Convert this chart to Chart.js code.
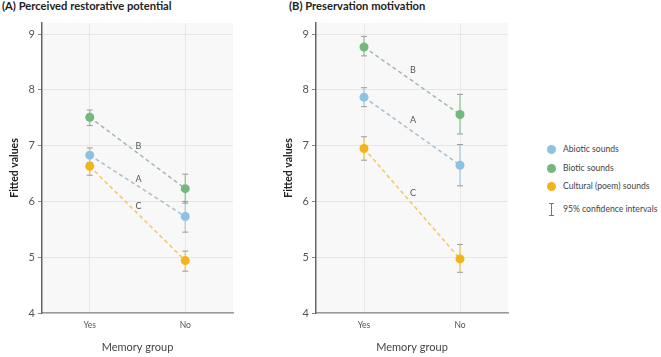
<!DOCTYPE html>
<html>
<head>
<meta charset="utf-8">
<script src="https://cdn.jsdelivr.net/npm/chart.js@4.4.1/dist/chart.umd.min.js"></script>
<style>
  body { margin: 0; background: #fff; font-family: Lato, sans-serif; }
  #wrap { position: relative; width: 661px; height: 357px; overflow: hidden; }
  .panel-title { position: absolute; top: -1px; font-weight: bold; font-size: 11.2px; color: #222; white-space: nowrap; }
  .cv { position: absolute; top: 0; }
  .leg-item { position: absolute; left: 563px; font-size: 8.6px; color: #444; white-space: nowrap; line-height: 10px; }
  .leg-dot { position: absolute; width: 9px; height: 9px; border-radius: 50%; }
</style>
</head>
<body>
<div id="wrap">
  <div class="panel-title" style="left:2px">(A) Perceived restorative potential</div>
  <div class="panel-title" style="left:289px">(B) Preservation motivation</div>
  <canvas id="chartA" class="cv" style="left:0px" width="240" height="357"></canvas>
  <canvas id="chartB" class="cv" style="left:250px" width="270" height="357"></canvas>
  <div id="legend"></div>
</div>
<script>
// categories and series
const memoryGroups = ['Yes', 'No'];
const seriesNames = ['Abiotic sounds', 'Biotic sounds', 'Cultural (poem) sounds'];
const seriesTags = ['A', 'B', 'C'];
const seriesColors = ['#8ec2e2', '#74b97c', '#f3b41b'];
const lineColors = ['#a8bfcf', '#a3bba6', '#f2c85e'];
const yTicks = [4, 5, 6, 7, 8, 9];

// (A) perceived restorative potential - fitted values and 95% CI
const restAbiotic = [6.83, 5.73];
const restAbioticLow = [6.70, 5.45];
const restAbioticHigh = [6.96, 6.00];
const restBiotic = [7.51, 6.23];
const restBioticLow = [7.36, 5.97];
const restBioticHigh = [7.64, 6.49];
const restCultural = [6.63, 4.94];
const restCulturalLow = [6.47, 4.75];
const restCulturalHigh = [6.78, 5.11];

// (B) preservation motivation
const presAbiotic = [7.87, 6.65];
const presAbioticLow = [7.70, 6.28];
const presAbioticHigh = [8.04, 7.02];
const presBiotic = [8.77, 7.56];
const presBioticLow = [8.61, 7.21];
const presBioticHigh = [8.96, 7.92];
const presCultural = [6.95, 4.97];
const presCulturalLow = [6.74, 4.73];
const presCulturalHigh = [7.16, 5.23];

function makeDatasets(means, lows, highs) {
  return means.map((vals, i) => ({
    label: seriesNames[i],
    tag: seriesTags[i],
    data: vals.map((v, j) => ({ x: j, y: v })),
    low: lows[i],
    high: highs[i],
    borderColor: lineColors[i],
    backgroundColor: seriesColors[i],
    pointBackgroundColor: seriesColors[i],
    pointBorderWidth: 0,
    pointRadius: 4.5,
    borderWidth: 1.5,
    borderDash: [4, 3],
    showLine: true
  }));
}

// plot background
const bgPlugin = {
  id: 'bg',
  beforeDraw(chart) {
    const { ctx, chartArea: a } = chart;
    ctx.save();
    ctx.fillStyle = '#f8f8f8';
    ctx.fillRect(a.left, a.top, a.right - a.left, a.bottom - a.top);
    ctx.restore();
  }
};

// error bars + A/B/C labels
const ciPlugin = {
  id: 'ci',
  beforeDatasetsDraw(chart) {
    const { ctx } = chart;
    const xs = chart.scales.x, ys = chart.scales.y;
    ctx.save();
    chart.data.datasets.forEach((ds, i) => {
      ds.data.forEach((p, j) => {
        const px = xs.getPixelForValue(p.x);
        const lo = ys.getPixelForValue(ds.low[j]);
        const hi = ys.getPixelForValue(ds.high[j]);
        ctx.strokeStyle = seriesColors[i];
        ctx.globalAlpha = 0.75;
        ctx.lineWidth = 1.3;
        ctx.beginPath();
        ctx.moveTo(px, lo);
        ctx.lineTo(px, hi);
        ctx.stroke();
        ctx.globalAlpha = 1;
        ctx.strokeStyle = '#9a9a9a';
        ctx.lineWidth = 1;
        ctx.beginPath();
        ctx.moveTo(px - 3, lo); ctx.lineTo(px + 3, lo);
        ctx.moveTo(px - 3, hi); ctx.lineTo(px + 3, hi);
        ctx.stroke();
      });
    });
    ctx.restore();
  },
  afterDatasetsDraw(chart, args, opts) {
    const { ctx } = chart;
    const xs = chart.scales.x, ys = chart.scales.y;
    ctx.save();
    ctx.font = '9px Lato';
    ctx.fillStyle = '#555';
    ctx.textAlign = 'center';
    ctx.textBaseline = 'middle';
    chart.data.datasets.forEach((ds) => {
      const mx = (ds.data[0].x + ds.data[1].x) / 2;
      const my = (ds.data[0].y + ds.data[1].y) / 2;
      ctx.fillText(ds.tag, xs.getPixelForValue(mx) + 1, ys.getPixelForValue(my) - opts.lift);
    });
    ctx.restore();
  }
};

function makeChart(id, datasets, yWidth, yTitlePad, rightPad, lift) {
  return new Chart(document.getElementById(id), {
    type: 'scatter',
    data: { datasets },
    plugins: [bgPlugin, ciPlugin],
    options: {
      responsive: false,
      animation: false,
      events: [],
      layout: { padding: { top: 23, right: rightPad, left: 0, bottom: 0 } },
      plugins: {
        legend: { display: false },
        tooltip: { enabled: false },
        ci: { lift }
      },
      scales: {
        x: {
          type: 'linear',
          min: -0.5,
          max: 1.5,
          afterBuildTicks: (s) => { s.ticks = memoryGroups.map((g, i) => ({ value: i })); },
          afterFit: (s) => { s.height = 44; },
          ticks: {
            callback: (v) => memoryGroups[v],
            font: { family: 'Lato', size: 8.5 },
            color: '#555',
            padding: 7,
            maxRotation: 0
          },
          grid: { color: '#e8e8e8', drawTicks: false },
          border: { color: '#9a9a9a', width: 1.5 },
          title: {
            display: true,
            text: 'Memory group',
            font: { family: 'Lato', size: 11 },
            color: '#444',
            padding: { top: 0, bottom: 3 }
          }
        },
        y: {
          min: 4,
          max: 9.2,
          afterBuildTicks: (s) => { s.ticks = yTicks.map((v) => ({ value: v })); },
          afterFit: (s) => { s.width = yWidth; },
          ticks: {
            font: { family: 'Lato', size: 11 },
            color: '#555',
            padding: 3
          },
          grid: { color: '#e6e6e6', tickLength: 4, tickColor: '#888' },
          border: { color: '#666', width: 1.5 },
          title: {
            display: true,
            text: 'Fitted values',
            font: { family: 'Lato', size: 10.5, weight: 'bold' },
            color: '#222',
            padding: { top: 8, bottom: 0 }
          }
        }
      }
    }
  });
}

makeChart('chartA', makeDatasets([restAbiotic, restBiotic, restCultural],
  [restAbioticLow, restBioticLow, restCulturalLow],
  [restAbioticHigh, restBioticHigh, restCulturalHigh]), 42, 8, 7, 7);

const chartB = makeChart('chartB', makeDatasets([presAbiotic, presBiotic, presCultural],
  [presAbioticLow, presBioticLow, presCulturalLow],
  [presAbioticHigh, presBioticHigh, presCulturalHigh]), 66, 32, 12, 11);
chartB.options.scales.y.title.padding = { top: 32, bottom: 0 };
chartB.update();

// legend
const legend = document.getElementById('legend');
const legendRows = [149, 168, 186];
seriesNames.forEach((name, i) => {
  const dot = document.createElement('div');
  dot.className = 'leg-dot';
  dot.style.left = '547px';
  dot.style.top = (legendRows[i] - 4.5) + 'px';
  dot.style.background = seriesColors[i];
  legend.appendChild(dot);
  const txt = document.createElement('div');
  txt.className = 'leg-item';
  txt.style.top = (legendRows[i] - 5) + 'px';
  txt.textContent = name;
  legend.appendChild(txt);
});
const ciIcon = document.createElement('div');
ciIcon.style.cssText = 'position:absolute;left:549px;top:203px;width:5px;height:11px;border-top:1px solid #777;border-bottom:1px solid #777;';
ciIcon.innerHTML = '<div style="position:absolute;left:2px;top:0;width:1px;height:11px;background:#777"></div>';
legend.appendChild(ciIcon);
const ciTxt = document.createElement('div');
ciTxt.className = 'leg-item';
ciTxt.style.top = '204px';
ciTxt.textContent = '95% confidence intervals';
legend.appendChild(ciTxt);
</script>
</body>
</html>
